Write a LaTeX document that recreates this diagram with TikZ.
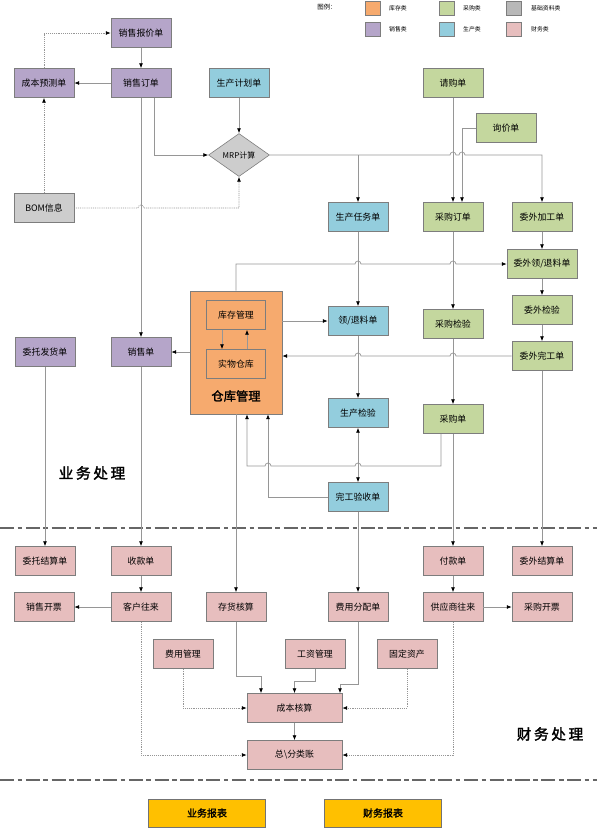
\documentclass[tikz,border=0pt]{standalone}
\usepackage{fontspec}
\setmainfont{Noto Sans CJK SC}
\newfontfamily\cjkheavy[FakeBold=2,LetterSpace=18]{Noto Sans CJK SC}
\newfontfamily\cjkbold[FakeBold=1.5]{Noto Sans CJK SC}
\usetikzlibrary{arrows.meta,shapes.geometric,calc}
\definecolor{salecol}{RGB}{181,165,201}
\definecolor{prodcol}{RGB}{147,205,221}
\definecolor{buycol}{RGB}{196,215,158}
\definecolor{basecol}{RGB}{205,205,205}
\definecolor{fincol}{RGB}{231,190,190}
\definecolor{stockcol}{RGB}{246,170,110}
\definecolor{repcol}{RGB}{255,192,0}
\definecolor{linecol}{RGB}{150,150,150}
\definecolor{edgecol}{RGB}{125,125,125}
\tikzset{
  box/.style={draw=edgecol, line width=0.5pt, minimum width=1.8cm, minimum height=0.87cm,
    inner sep=1pt, font=\fontsize{7.6}{9}\selectfont},
  sale/.style={box, fill=salecol},
  prod/.style={box, fill=prodcol},
  buy/.style={box, fill=buycol},
  base/.style={box, fill=basecol},
  fin/.style={box, fill=fincol},
  stock/.style={box, fill=stockcol},
  report/.style={box, fill=repcol, draw=black!55, minimum width=3.5cm, minimum height=0.84cm,
    font=\fontsize{8.5}{10}\cjkbold},
  swatch/.style={draw=edgecol, line width=0.4pt, minimum width=0.45cm, minimum height=0.42cm, inner sep=0pt},
  legtxt/.style={font=\fontsize{5}{6}\selectfont, inner sep=0pt, anchor=west},
  conn/.style={draw=linecol, line width=0.6pt},
  arr/.style={conn, -{Latex[length=4.2pt,width=3.4pt,color=black]}},
  arrboth/.style={conn, {Latex[length=4.2pt,width=3.4pt,color=black]}-{Latex[length=4.2pt,width=3.4pt,color=black]}},
  darr/.style={arr, dash pattern=on 0.8pt off 0.8pt},
  sep/.style={draw=black!60, line width=1pt, dash pattern=on 12pt off 3pt on 4pt off 3pt},
  big/.style={font=\fontsize{12.5}{14}\cjkheavy, inner sep=0pt},
}
\def\jr{2.55pt}
\begin{document}
\begin{tikzpicture}[x=0.03cm,y=-0.03cm]
\useasboundingbox (0,0) rectangle (597,828);

% legend
\node[font=\fontsize{5.5}{6}\selectfont, inner sep=0pt] (lgt) at (327,7) {图例：};
\node[swatch, fill=stockcol] (lg1) at (373,8) {};
\node[swatch, fill=buycol] (lg2) at (447,8) {};
\node[swatch, fill=basecol!90!black] (lg3) at (514,8) {};
\node[swatch, fill=salecol] (lg4) at (373,29) {};
\node[swatch, fill=prodcol] (lg5) at (447,29) {};
\node[swatch, fill=fincol] (lg6) at (514,29) {};
\node[legtxt] (lt1) at (389,8) {库存类};
\node[legtxt] (lt2) at (463,8) {采购类};
\node[legtxt] (lt3) at (531,8) {基础资料类};
\node[legtxt] (lt4) at (389,29) {销售类};
\node[legtxt] (lt5) at (463,29) {生产类};
\node[legtxt] (lt6) at (531,29) {财务类};

% top section
\node[sale] (bj) at (141,33) {销售报价单};
\node[sale] (ycb) at (44,83) {成本预测单};
\node[sale] (xsdd) at (141,83) {销售订单};
\node[prod] (scjh) at (239,83) {生产计划单};
\node[diamond, draw=edgecol, line width=0.5pt, fill=basecol, minimum width=1.83cm, minimum height=1.29cm,
  inner sep=0pt, font=\fontsize{6.8}{8}\selectfont] (mrp) at (239,155) {MRP计算};
\node[base] (bom) at (44,208) {BOM信息};
\node[buy] (qgd) at (453,83) {请购单};
\node[buy] (xjd) at (506,128) {询价单};
\node[prod] (scrw) at (358,217) {生产任务单};
\node[buy] (cgdd) at (453,217) {采购订单};
\node[buy] (wwjg) at (542,217) {委外加工单};
\node[buy, minimum width=2.1cm] (wwll) at (542,264) {委外领/退料单};

% warehouse
\node[stock, minimum width=2.76cm, minimum height=3.69cm] (ck) at (236,352.5) {};
\node[stock, minimum width=1.77cm] (kcgl) at (236,315) {库存管理};
\node[stock, minimum width=1.77cm] (swck) at (236,364) {实物仓库};
\node[font=\fontsize{10.5}{12}\cjkbold, inner sep=0pt] (cklbl) at (236,396) {仓库管理};

\node[sale] (wtfh) at (45,352) {委托发货单};
\node[sale] (xsd) at (141,352) {销售单};
\node[prod] (lld) at (358,321) {领/退料单};
\node[buy] (cgjy) at (453,324) {采购检验};
\node[buy] (wwjy) at (542,310) {委外检验};
\node[buy] (wwwg) at (542,356) {委外完工单};
\node[prod] (scjy) at (358,413) {生产检验};
\node[buy] (cgd) at (453,419) {采购单};
\node[prod] (wgys) at (358,497) {完工验收单};

\node[big] (ywcl) at (92,473) {业务处理};

% finance
\node[fin] (wtjs) at (45,561) {委托结算单};
\node[fin] (skd) at (141,561) {收款单};
\node[fin] (fkd) at (453,561) {付款单};
\node[fin] (wwjs) at (542,561) {委外结算单};
\node[fin] (xskp) at (44,607) {销售开票};
\node[fin] (khwl) at (141,607) {客户往来};
\node[fin] (chhs) at (236,607) {存货核算};
\node[fin] (fyfp) at (358,607) {费用分配单};
\node[fin] (gys) at (453,607) {供应商往来};
\node[fin] (cgkp) at (542,607) {采购开票};
\node[fin] (fygl) at (183,654) {费用管理};
\node[fin] (gzgl) at (315,654) {工资管理};
\node[fin] (gdzc) at (407,654) {固定资产};
\node[fin, minimum width=2.85cm] (cbhs) at (294.5,708) {成本核算};
\node[fin, minimum width=2.85cm] (zfl) at (294.5,755) {总\textbackslash 分类账};
\node[big] (cwcl) at (550,734) {财务处理};

\node[report] (ywbb) at (207,813) {业务报表};
\node[report] (cwbb) at (383,813) {财务报表};

% separators
\coordinate (s1l) at (0,528); \coordinate (s1r) at (597,528);
\coordinate (s2l) at (0,780); \coordinate (s2r) at (597,780);
\draw[sep] (s1l) -- (s1r);
\draw[sep] (s2l) -- (s2r);

% helper coordinates
\coordinate (xjc) at (462,128);
\coordinate (ckin1) at ($(ck.south)+(11,0)$);
\coordinate (ckin2) at ($(ck.south)+(32,0)$);
\coordinate (c466) at (441,466);

% ---- connectors: top
\draw[arr] (bj) -- (xsdd);
\draw[arr] (xsdd) -- (ycb);
\draw[darr] (ycb.north) |- (bj.west);
\draw[darr] (bom) -- (ycb);
\draw[darr] (bom.east) -- ($(xsdd.south |- bom.east)+(-3,0)$)
  arc[start angle=180,end angle=0,radius=\jr] -- (mrp.south |- bom.east) -- (mrp.south);
\draw[arr] ($(xsdd.south)+(13,0)$) |- (mrp.west);
\draw[arr] (scjh) -- (mrp);
\draw[arr] (xsdd) -- (xsd);
\draw[arr] (mrp.east) -- ($(qgd.south |- mrp.east)+(-3,0)$)
  arc[start angle=180,end angle=0,radius=\jr] -- ($(xjc |- mrp.east)+(-3,0)$)
  arc[start angle=180,end angle=0,radius=\jr] -- (wwjg.north |- mrp.east) -- (wwjg.north);
\draw[arr] (scrw.north |- mrp.east) -- (scrw.north);
\draw[arr] (qgd) -- (cgdd);
\draw[arr] (xjd.west) -- (xjc) -- (xjc |- cgdd.north);

% ---- middle
\draw[arr] (scrw) -- (lld);
\draw[arr] (cgdd) -- (cgjy);
\draw[arr] (wwjg) -- (wwll);
\draw[arr] (wwll) -- (wwjy);
\draw[arr] (wwjy) -- (wwwg);
\draw[arr] (ck.north) -- (ck.north |- wwll.west) -- ($(scrw.south |- wwll.west)+(-3,0)$)
  arc[start angle=180,end angle=0,radius=\jr] -- ($(cgdd.south |- wwll.west)+(-3,0)$)
  arc[start angle=180,end angle=0,radius=\jr] -- (wwll.west);
\draw[arr] (ck.east |- lld.west) -- (lld.west);
\draw[arr] (wwwg.west) -- ($(cgjy.south |- wwwg.west)+(3,0)$)
  arc[start angle=0,end angle=180,radius=\jr] -- ($(lld.south |- wwwg.west)+(3,0)$)
  arc[start angle=0,end angle=180,radius=\jr] -- (ck.east |- wwwg.west);
\draw[arr] (ck.west |- xsd.east) -- (xsd.east);
\draw[arr] ($(kcgl.south)+(-14,0)$) -- ($(swck.north)+(-14,0)$);
\draw[arr] ($(swck.north)+(11,0)$) -- ($(kcgl.south)+(11,0)$);
\draw[arr] (lld) -- (scjy);
\draw[arr] (cgjy) -- (cgd);
\draw[arrboth] (scjy) -- (wgys);
\draw[arr] ($(cgd.south)+(-12,0)$) -- (c466) -- ($(scjy.south |- c466)+(3,0)$)
  arc[start angle=0,end angle=180,radius=\jr] -- ($(ckin2 |- c466)+(3,0)$)
  arc[start angle=0,end angle=180,radius=\jr] -- (ckin1 |- c466) -- (ckin1);
\draw[arr] (wgys.west) -| (ckin2);

% ---- down to finance
\draw[arr] (wtfh) -- (wtjs);
\draw[arr] (xsd) -- (skd);
\draw[arr] (ck.south) -- (chhs.north);
\draw[arr] (wgys) -- (fyfp);
\draw[arr] (cgd) -- (fkd);
\draw[arr] (wwwg) -- (wwjs);

% ---- finance
\draw[arr] (skd) -- (khwl);
\draw[arr] (khwl) -- (xskp);
\draw[arr] (fkd) -- (gys);
\draw[arr] (gys) -- (cgkp);
\draw[arr] (chhs.south) |- (261,676) -- (261,0 |- cbhs.north);
\draw[arr] (gzgl.south) |- (294.5,681) -- (cbhs.north);
\draw[arr] (fyfp.south) |- (340,684) -- (340,0 |- cbhs.north);
\draw[darr] (fygl.south) |- (cbhs.west);
\draw[darr] (gdzc.south) |- (cbhs.east);
\draw[arr] (cbhs) -- (zfl);
\draw[darr] (khwl.south) |- (zfl.west);
\draw[darr] (gys.south) |- (zfl.east);
\end{tikzpicture}
\end{document}
